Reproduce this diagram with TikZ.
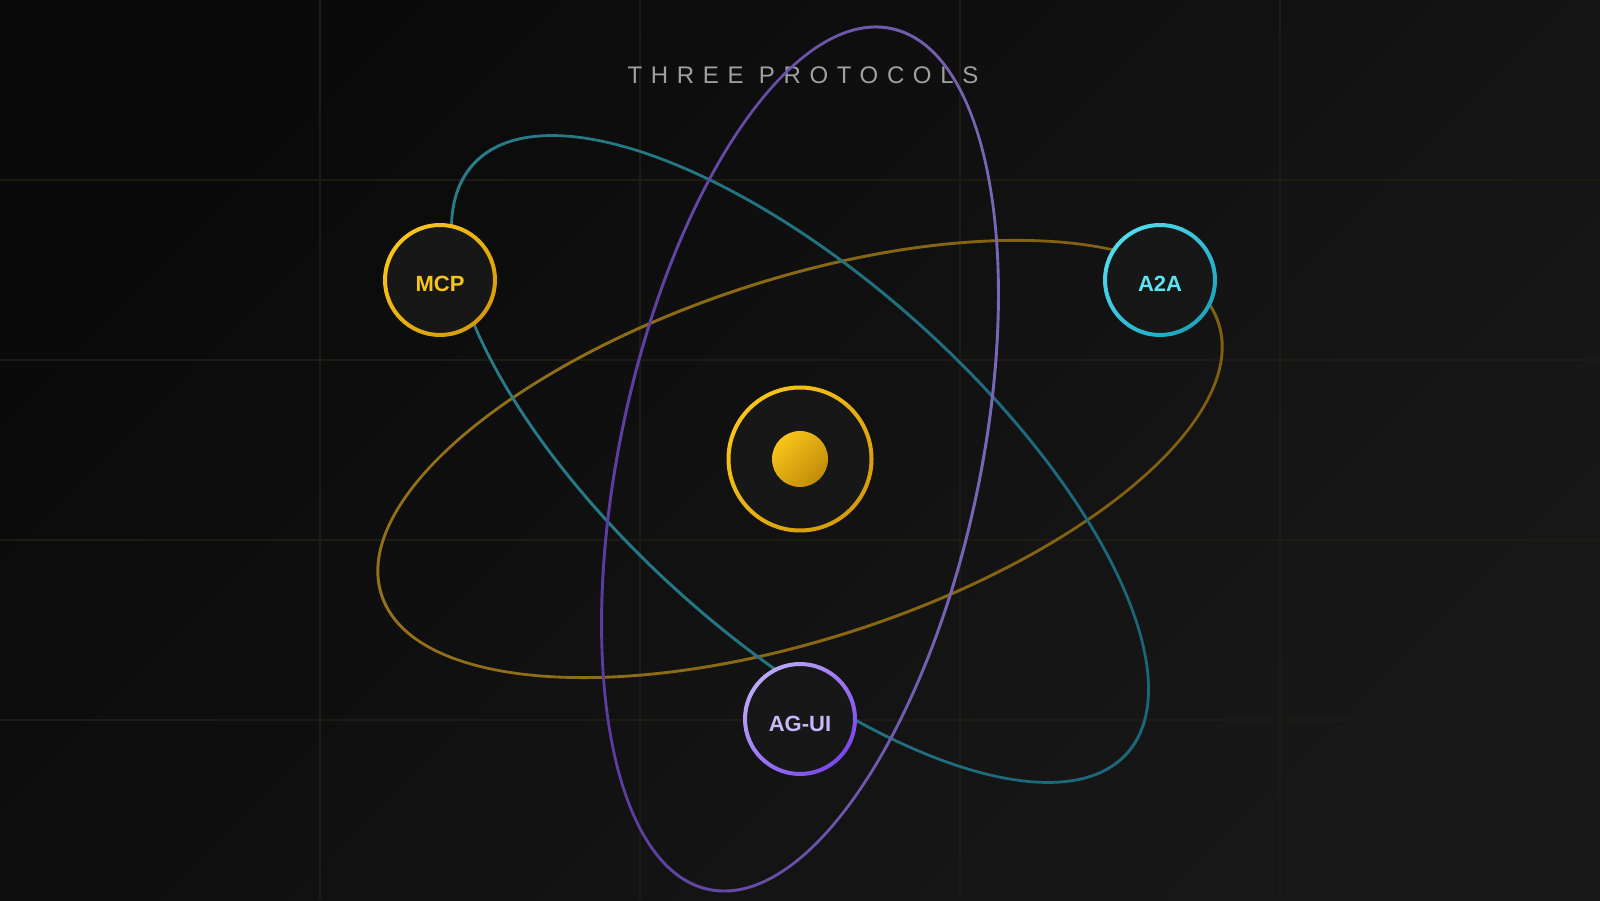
\documentclass[tikz,border=0pt]{standalone}
\usepackage{fontspec}
\setmainfont{Liberation Sans}
\usetikzlibrary{calc}
\definecolor{bgA}{HTML}{0A0A0A}
\definecolor{bgB}{HTML}{181818}
\definecolor{gridc}{HTML}{1E1C12}
\definecolor{nodefill}{HTML}{171717}
\definecolor{goldA}{HTML}{F7C51A}
\definecolor{goldB}{HTML}{D69B0A}
\definecolor{cyanA}{HTML}{4FDCEC}
\definecolor{cyanB}{HTML}{1CA4C0}
\definecolor{purpA}{HTML}{BCA8F8}
\definecolor{purpB}{HTML}{7A48EA}
\definecolor{orbGoldA}{HTML}{93721A}
\definecolor{orbGoldB}{HTML}{7E5E10}
\definecolor{orbTealA}{HTML}{2A7F8A}
\definecolor{orbTealB}{HTML}{1B6478}
\definecolor{orbPurpA}{HTML}{7C6AB6}
\definecolor{orbPurpB}{HTML}{5A389E}
\definecolor{titlec}{HTML}{A0A0A0}
\definecolor{mcptext}{HTML}{F5C518}
\definecolor{a2atext}{HTML}{5EE3F0}
\definecolor{aguitext}{HTML}{C8B8F8}
\tikzset{
  gridline/.style={draw=gridc, line width=1.2pt},
  protonode/.style={circle, fill=nodefill, minimum size=108pt, inner sep=0pt,
    text height=24pt, text depth=0pt,
    font=\fontsize{22}{26}\selectfont\bfseries},
}
\begin{document}
\begin{tikzpicture}[x=1pt,y=1pt]
  % background
  \shade[top color=bgA, bottom color=bgB, shading angle=45] (0,0) rectangle (1600,900);
  \useasboundingbox (0,0) rectangle (1600,900);
  % grid
  \foreach \gx in {320,640,960,1280} \draw[gridline] (\gx,0) -- (\gx,900);
  \foreach \gy in {180,360,540,720} \draw[gridline] (0,\gy) -- (1600,\gy);
  % title
  \node (title) at (803,825) {\fontsize{24}{28}\selectfont\addfontfeatures{LetterSpace=36}\color{titlec}THREE PROTOCOLS};
  % orbits
  \coordinate (c) at (800,441);
  \begin{scope}[rotate around={18:(c)}]
    \shade[even odd rule, left color=orbGoldA, right color=orbGoldB]
      (c) ellipse [x radius=441.5, y radius=181.5]
      (c) ellipse [x radius=438.5, y radius=178.5];
  \end{scope}
  \begin{scope}[rotate around={-42:(c)}]
    \shade[even odd rule, left color=orbTealA, right color=orbTealB]
      (c) ellipse [x radius=441.5, y radius=181.5]
      (c) ellipse [x radius=438.5, y radius=178.5];
  \end{scope}
  \begin{scope}[rotate around={78:(c)}]
    \shade[even odd rule, left color=orbPurpB, right color=orbPurpA]
      (c) ellipse [x radius=441.5, y radius=181.5]
      (c) ellipse [x radius=438.5, y radius=178.5];
  \end{scope}
  % center
  \node[circle, fill=nodefill, minimum size=142pt, inner sep=0pt] (core) at (c) {};
  \shade[even odd rule, top color=goldA, bottom color=goldB, shading angle=45]
    (core.center) circle[radius=73.5] (core.center) circle[radius=69.5];
  \shade[top color=goldA, bottom color=goldB!90!black, shading angle=45]
    (core.center) circle[radius=28];
  % protocol nodes
  \node[protonode, text=mcptext] (mcp) at (440,620) {MCP};
  \shade[even odd rule, top color=goldA, bottom color=goldB, shading angle=45]
    (mcp.center) circle[radius=57] (mcp.center) circle[radius=53];
  \node[protonode, text=a2atext] (a2a) at (1160,620) {A2A};
  \shade[even odd rule, top color=cyanA, bottom color=cyanB, shading angle=45]
    (a2a.center) circle[radius=57] (a2a.center) circle[radius=53];
  \node[protonode, text=aguitext] (agui) at (800,181) {AG-UI};
  \shade[even odd rule, top color=purpA, bottom color=purpB, shading angle=45]
    (agui.center) circle[radius=57] (agui.center) circle[radius=53];
\end{tikzpicture}
\end{document}
